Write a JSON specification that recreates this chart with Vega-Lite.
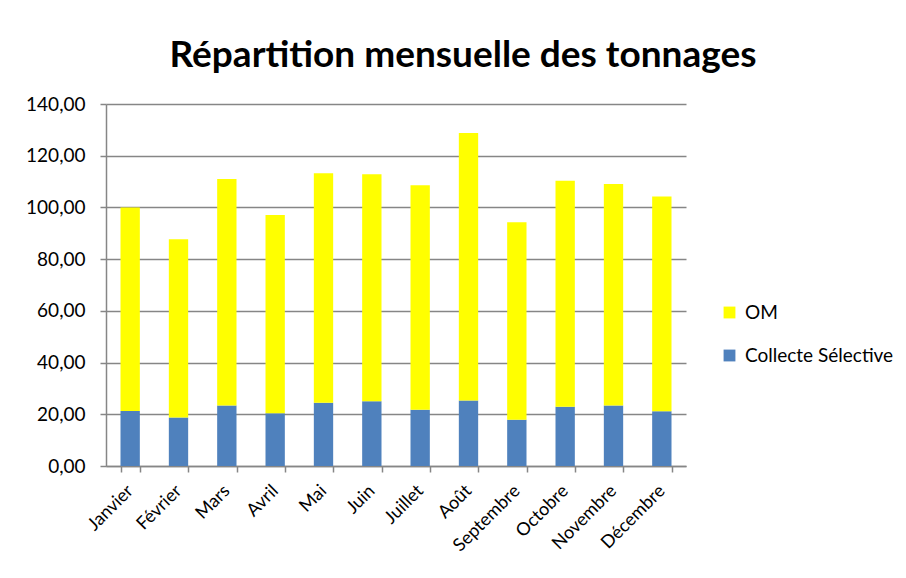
{
  "$schema": "https://vega.github.io/schema/vega-lite/v6.json",
  "autosize": {"type": "none"},
  "width": 580,
  "height": 362,
  "padding": {"left": 106, "top": 104, "right": 220, "bottom": 112},
  "background": "white",
  "title": {
    "text": "Répartition mensuelle des tonnages",
    "font": "Lato",
    "fontSize": 37,
    "fontWeight": "bold",
    "color": "black",
    "anchor": "middle",
    "dx": 67,
    "offset": 20
  },
  "data": {
    "values": [
      {"mois": "Janvier", "serie": "Collecte Sélective", "tonnes": 21.3},
      {"mois": "Janvier", "serie": "OM", "tonnes": 78.7},
      {"mois": "Février", "serie": "Collecte Sélective", "tonnes": 18.8},
      {"mois": "Février", "serie": "OM", "tonnes": 68.9},
      {"mois": "Mars", "serie": "Collecte Sélective", "tonnes": 23.4},
      {"mois": "Mars", "serie": "OM", "tonnes": 87.6},
      {"mois": "Avril", "serie": "Collecte Sélective", "tonnes": 20.4},
      {"mois": "Avril", "serie": "OM", "tonnes": 76.7},
      {"mois": "Mai", "serie": "Collecte Sélective", "tonnes": 24.5},
      {"mois": "Mai", "serie": "OM", "tonnes": 88.7},
      {"mois": "Juin", "serie": "Collecte Sélective", "tonnes": 25.0},
      {"mois": "Juin", "serie": "OM", "tonnes": 87.8},
      {"mois": "Juillet", "serie": "Collecte Sélective", "tonnes": 21.8},
      {"mois": "Juillet", "serie": "OM", "tonnes": 86.8},
      {"mois": "Août", "serie": "Collecte Sélective", "tonnes": 25.3},
      {"mois": "Août", "serie": "OM", "tonnes": 103.5},
      {"mois": "Septembre", "serie": "Collecte Sélective", "tonnes": 17.9},
      {"mois": "Septembre", "serie": "OM", "tonnes": 76.4},
      {"mois": "Octobre", "serie": "Collecte Sélective", "tonnes": 22.9},
      {"mois": "Octobre", "serie": "OM", "tonnes": 87.4},
      {"mois": "Novembre", "serie": "Collecte Sélective", "tonnes": 23.4},
      {"mois": "Novembre", "serie": "OM", "tonnes": 85.7},
      {"mois": "Décembre", "serie": "Collecte Sélective", "tonnes": 21.2},
      {"mois": "Décembre", "serie": "OM", "tonnes": 83.0}
    ]
  },
  "mark": {"type": "bar"},
  "encoding": {
    "x": {
      "field": "mois",
      "type": "nominal",
      "sort": null,
      "scale": {"paddingInner": 0.6, "paddingOuter": 0.3},
      "axis": {
        "title": null,
        "labelAngle": -45,
        "labelAlign": "right",
        "labelBaseline": "middle",
        "labelFont": "Lato",
        "labelFontSize": 18,
        "labelColor": "black",
        "labelPadding": 16,
        "tickBand": "extent",
        "tickSize": 6,
        "tickColor": "#868686",
        "tickWidth": 1.5,
        "domainColor": "#868686",
        "domainWidth": 1.5,
        "grid": false
      }
    },
    "y": {
      "field": "tonnes",
      "type": "quantitative",
      "aggregate": "sum",
      "scale": {"domain": [0, 140], "nice": false},
      "axis": {
        "title": null,
        "values": [0, 20, 40, 60, 80, 100, 120, 140],
        "labelExpr": "replace(format(datum.value, '.2f'), '.', ',')",
        "labelFont": "Lato",
        "labelFontSize": 19,
        "labelColor": "black",
        "labelPadding": 15,
        "tickSize": 6,
        "tickColor": "#868686",
        "tickWidth": 1.5,
        "domainColor": "#868686",
        "domainWidth": 1.5,
        "grid": true,
        "gridColor": "#868686",
        "gridWidth": 1.5
      }
    },
    "color": {
      "field": "serie",
      "type": "nominal",
      "scale": {"domain": ["OM", "Collecte Sélective"], "range": ["#FFFF00", "#4F81BD"]},
      "legend": {
        "title": null,
        "orient": "none",
        "legendX": 614,
        "legendY": 199,
        "symbolType": "square",
        "symbolSize": 140,
        "symbolStrokeWidth": 0,
        "labelFont": "Lato",
        "labelFontSize": 19,
        "labelColor": "black",
        "rowPadding": 23,
        "labelOffset": 6
      }
    },
    "order": {"field": "serie", "sort": "ascending"}
  },
  "config": {
    "view": {"stroke": null}
  }
}
